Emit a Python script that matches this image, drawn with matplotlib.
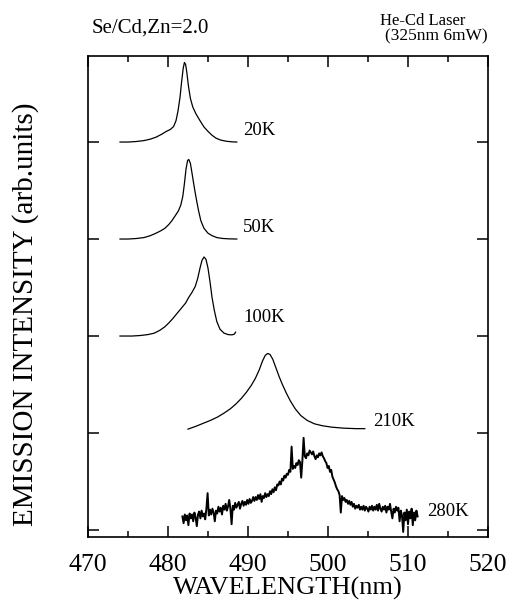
import numpy as np
import matplotlib.pyplot as plt
from matplotlib.ticker import MultipleLocator

plt.rcParams['font.family'] = ['Liberation Serif', 'DejaVu Serif']

# spectra, offsets are the stacking levels on the intensity axis
wl_20 = [474.0, 475.0, 476.0, 477.0, 477.8, 478.5, 479.2, 479.8, 480.3, 480.7, 481.0,
         481.25, 481.5, 481.7, 481.9, 482.05, 482.2, 482.35, 482.55, 482.8, 483.1,
         483.5, 484.0, 484.5, 485.0, 485.5, 486.0, 486.6, 487.3, 488.0, 488.6]
i_20 = [0.0, 0.0, 0.005, 0.015, 0.03, 0.05, 0.08, 0.11, 0.13, 0.16, 0.22,
        0.32, 0.46, 0.62, 0.76, 0.82, 0.80, 0.72, 0.58, 0.45, 0.36,
        0.29, 0.22, 0.155, 0.11, 0.07, 0.04, 0.02, 0.008, 0.002, 0.0]

wl_50 = [474.0, 475.0, 476.0, 477.0, 477.8, 478.5, 479.1, 479.6, 480.1, 480.5, 480.9,
         481.3, 481.6, 481.85, 482.05, 482.25, 482.45, 482.6, 482.8, 483.0, 483.25,
         483.5, 483.8, 484.1, 484.5, 485.0, 485.5, 486.1, 486.8, 487.6, 488.6]
i_50 = [0.0, 0.0, 0.005, 0.015, 0.035, 0.06, 0.085, 0.11, 0.15, 0.19, 0.24,
        0.29, 0.35, 0.44, 0.57, 0.72, 0.81, 0.82, 0.78, 0.68, 0.55,
        0.43, 0.30, 0.19, 0.11, 0.06, 0.035, 0.015, 0.006, 0.002, 0.0]

wl_100 = [474.0, 475.5, 476.5, 477.5, 478.3, 479.0, 479.6, 480.1, 480.6, 481.0, 481.4,
          481.8, 482.2, 482.6, 483.0, 483.4, 483.7, 484.0, 484.25, 484.5, 484.75,
          485.0, 485.25, 485.5, 485.8, 486.1, 486.5, 487.0, 487.5, 488.0, 488.3, 488.45]
i_100 = [0.0, 0.0, 0.005, 0.015, 0.03, 0.06, 0.095, 0.135, 0.18, 0.22, 0.26,
         0.30, 0.34, 0.40, 0.45, 0.51, 0.59, 0.70, 0.78, 0.815, 0.79,
         0.70, 0.56, 0.40, 0.26, 0.15, 0.07, 0.03, 0.015, 0.012, 0.02, 0.04]

wl_210 = [482.5, 483.5, 484.4, 485.3, 486.2, 487.0, 487.8, 488.5, 489.2, 489.8, 490.4,
          490.9, 491.4, 491.8, 492.15, 492.45, 492.75, 493.1, 493.5, 493.9, 494.3,
          494.8, 495.3, 495.9, 496.6, 497.4, 498.3, 499.3, 500.5, 502.0, 503.5, 504.6]
i_210 = [0.04, 0.07, 0.10, 0.13, 0.165, 0.205, 0.25, 0.30, 0.36, 0.42, 0.49,
         0.56, 0.65, 0.74, 0.80, 0.82, 0.81, 0.76, 0.67, 0.58, 0.50,
         0.41, 0.33, 0.25, 0.18, 0.13, 0.095, 0.075, 0.06, 0.05, 0.045, 0.045]

# 280K is noisy, sampled every 0.15 nm from 481.8 nm
i_280 = [0.14, 0.07, 0.16, 0.10, 0.15, 0.05, 0.17, 0.12, 0.16, 0.09,
         0.18, 0.13, 0.04, 0.16, 0.19, 0.12, 0.20, 0.14, 0.17, 0.11,
         0.22, 0.38, 0.15, 0.21, 0.16, 0.22, 0.18, 0.09, 0.20, 0.17,
         0.24, 0.19, 0.23, 0.16, 0.25, 0.21, 0.27, 0.20, 0.24, 0.31,
         0.22, 0.06, 0.25, 0.21, 0.28, 0.23, 0.26, 0.29, 0.22, 0.27,
         0.30, 0.25, 0.29, 0.26, 0.31, 0.27, 0.32, 0.28, 0.30, 0.34,
         0.30, 0.34, 0.31, 0.36, 0.32, 0.37, 0.29, 0.35, 0.33, 0.38,
         0.34, 0.37, 0.35, 0.40, 0.37, 0.42, 0.39, 0.44, 0.41, 0.47,
         0.46, 0.50, 0.47, 0.53, 0.51, 0.56, 0.54, 0.58, 0.57, 0.62,
         0.60, 0.86, 0.63, 0.66, 0.64, 0.69, 0.67, 0.72, 0.70, 0.54,
         0.72, 0.95, 0.76, 0.74, 0.79, 0.77, 0.82, 0.80, 0.78, 0.81,
         0.76, 0.73, 0.77, 0.75, 0.79, 0.77, 0.80, 0.76, 0.74, 0.71,
         0.69, 0.64, 0.66, 0.60, 0.62, 0.55, 0.52, 0.49, 0.45, 0.42,
         0.40, 0.36, 0.18, 0.35, 0.31, 0.33, 0.29, 0.31, 0.27, 0.30,
         0.26, 0.29, 0.24, 0.27, 0.22, 0.25, 0.23, 0.26, 0.21, 0.24,
         0.21, 0.25, 0.20, 0.24, 0.22, 0.19, 0.24, 0.21, 0.25, 0.20,
         0.24, 0.21, 0.26, 0.20, 0.27, 0.22, 0.19, 0.24, 0.21, 0.25,
         0.18, 0.24, 0.21, 0.27, 0.19, 0.12, 0.22, 0.18, 0.24, 0.20,
         0.23, 0.09, 0.20, 0.15, -0.02, 0.18, 0.10, 0.21, 0.06, 0.19,
         0.12, 0.22, 0.05, 0.18, 0.10, 0.20, 0.14]
wl_280 = 481.8 + 0.15 * np.arange(len(i_280))

spectra = [(wl_20, i_20, 4), (wl_50, i_50, 3), (wl_100, i_100, 2), (wl_210, i_210, 1)]

fig = plt.figure(figsize=(5.15, 6.08), dpi=100)
ax = fig.add_axes([88/515, 71/608, 400/515, 481/608])

for wl, inten, off in spectra:
    ax.plot(wl, np.array(inten) + off, color='black', lw=0.9)
ax.plot(wl_280, i_280, color='black', lw=1.4)

# temperature labels
ax.text(489.4, 4.12, '20K', fontsize=13.5, va='center')
ax.text(489.4, 3.12, '50K', fontsize=13.5, va='center')
ax.text(489.4, 2.19, '100K', fontsize=13.5, va='center')
ax.text(505.6, 1.12, '210K', fontsize=13.5, va='center')
ax.text(512.4, 0.196, '280K', fontsize=13.5, va='center')

ax.set_xlim(470, 520)
ax.set_ylim(-0.072, 4.887)
ax.xaxis.set_major_locator(MultipleLocator(10))
ax.xaxis.set_minor_locator(MultipleLocator(5))
ax.set_yticks([0, 1, 2, 3, 4])
ax.set_yticklabels([])
ax.tick_params(which='both', direction='in', top=True, right=True, width=1.1)
ax.tick_params(which='major', length=8, labelsize=18.5, pad=12)
ax.tick_params(which='minor', length=4)
for sp in ax.spines.values():
    sp.set_linewidth(1.2)

ax.set_xlabel('WAVELENGTH(nm)', fontsize=19, labelpad=1)
fig.text(26/515, 1 - 314/608, 'EMISSION INTENSITY (arb.units)', fontsize=21,
         rotation=90, ha='center', va='center')

fig.text(92/515, 1 - 33/608, 'Se/Cd,Zn=2.0', fontsize=15, va='baseline')
fig.text(380/515, 1 - 25/608, 'He-Cd Laser', fontsize=12, va='baseline')
fig.text(385/515, 1 - 40/608, '(325nm 6mW)', fontsize=12.5, va='baseline')

plt.savefig('out.png', dpi=100)
